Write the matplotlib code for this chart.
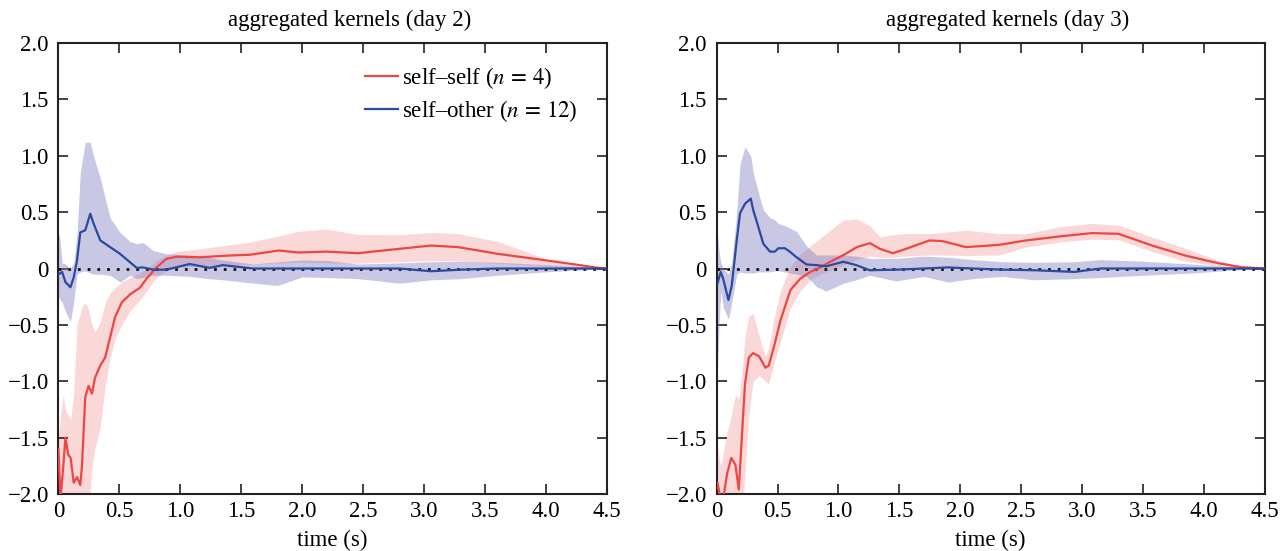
import numpy as np
import matplotlib
matplotlib.use("Agg")
import matplotlib.pyplot as plt
from matplotlib.ticker import FuncFormatter

plt.rcParams['font.family'] = ['Liberation Serif', 'DejaVu Serif']
plt.rcParams['mathtext.fontset'] = 'stix'

# ---- day 2, self-self ----
x2_ss = [0, 0.016, 0.04, 0.057, 0.08, 0.1, 0.125, 0.152, 0.179, 0.193, 0.22, 0.247,
         0.275, 0.30, 0.343, 0.383, 0.424, 0.465, 0.52, 0.587, 0.669, 0.723, 0.805,
         0.886, 0.968, 1.16, 1.4, 1.57, 1.81, 1.97, 2.2, 2.46, 2.8, 3.06, 3.28, 3.61,
         4.02, 4.25, 4.42, 4.5]
m2_ss = [-1.6, -2.05, -1.75, -1.5, -1.65, -1.68, -1.9, -1.85, -1.92, -1.75, -1.14, -1.04,
         -1.11, -0.97, -0.86, -0.79, -0.61, -0.43, -0.30, -0.23, -0.17, -0.09, 0.01,
         0.085, 0.105, 0.1, 0.115, 0.122, 0.16, 0.142, 0.15, 0.136, 0.175, 0.204, 0.19, 0.13,
         0.07, 0.035, 0.008, 0]
hi2_ss = [-1.5, -1.3, -1.12, -1.25, -1.3, -1.35, -1.1, -0.5, -0.4, -0.34, -0.3, -0.36,
          -0.5, -0.56, -0.48, -0.3, -0.22, -0.17, -0.12, -0.08, -0.04, 0.0, 0.07,
          0.12, 0.15, 0.175, 0.21, 0.234, 0.29, 0.33, 0.35, 0.302, 0.30, 0.32, 0.31, 0.24,
          0.08, 0.035, 0.01, 0]
lo2_ss = [-2.2, -2.2, -2.2, -2.2, -2.2, -2.2, -2.2, -2.2, -2.2, -2.2, -2.2, -2.2,
          -1.75, -1.6, -1.4, -1.05, -0.8, -0.62, -0.5, -0.38, -0.28, -0.2, -0.08,
          -0.02, 0.01, 0.02, 0.03, 0.035, 0.05, 0.055, 0.05, 0.047, 0.06, 0.07, 0.07, 0.045,
          0.02, 0.01, 0.003, 0]

# ---- day 2, self-other ----
x2_so = [0, 0.008, 0.03, 0.057, 0.098, 0.125, 0.152, 0.179, 0.22, 0.261, 0.288, 0.343,
         0.424, 0.506, 0.587, 0.642, 0.696, 0.777, 0.886, 1.077, 1.24, 1.35, 1.6, 1.8,
         2.0, 2.2, 2.46, 2.8, 3.06, 3.3, 3.6, 4.0, 4.4, 4.5]
m2_so = [-0.05, -0.047, -0.03, -0.12, -0.166, -0.08, 0.07, 0.32, 0.34, 0.486, 0.40, 0.25,
         0.19, 0.13, 0.056, 0.006, 0.01, -0.01, -0.01, 0.04, 0.006, 0.03, 0.0, 0.0,
         0.0, 0.0, 0.0, 0.0, -0.024, -0.01, 0.0, 0.0, 0.0, 0]
hi2_so = [0.30, 0.30, 0.05, 0.04, 0.0, 0.05, 0.3, 0.85, 1.12, 1.12, 1.0, 0.8,
          0.45, 0.32, 0.24, 0.22, 0.23, 0.16, 0.13, 0.12, 0.1, 0.075, 0.04, 0.06,
          0.075, 0.072, 0.04, 0.05, 0.06, 0.065, 0.055, 0.035, 0.01, 0]
lo2_so = [-0.25, -0.27, -0.3, -0.38, -0.47, -0.3, -0.05, -0.03, -0.02, -0.04, -0.05, -0.05,
          -0.06, -0.12, -0.06, -0.09, -0.08, -0.06, -0.06, -0.07, -0.09, -0.1, -0.13, -0.15,
          -0.075, -0.08, -0.09, -0.13, -0.1, -0.09, -0.06, -0.03, -0.005, 0]

# ---- day 3, self-self ----
x3_ss = [0, 0.007, 0.034, 0.06, 0.086, 0.12, 0.154, 0.182, 0.21, 0.233, 0.264, 0.30,
         0.35, 0.40, 0.428, 0.469, 0.524, 0.606, 0.687, 0.769, 0.851, 0.933, 1.042,
         1.151, 1.26, 1.34, 1.447, 1.556, 1.747, 1.856, 2.047, 2.32, 2.54, 2.81, 3.08,
         3.30, 3.575, 3.848, 4.12, 4.31, 4.5]
m3_ss = [-1.95, -1.9, -2.05, -2.0, -1.82, -1.68, -1.74, -1.96, -1.44, -1.02, -0.79, -0.75,
         -0.78, -0.88, -0.86, -0.7, -0.46, -0.19, -0.09, -0.03, 0.01, 0.06, 0.12,
         0.19, 0.225, 0.175, 0.136, 0.175, 0.249, 0.243, 0.19, 0.21, 0.249, 0.284, 0.314,
         0.308, 0.204, 0.115, 0.047, 0.012, 0]
hi3_ss = [-1.62, -1.6, -1.75, -1.6, -1.45, -1.3, -1.12, -1.15, -0.9, -0.6, -0.42, -0.4,
          -0.6, -0.78, -0.7, -0.45, -0.2, 0.02, 0.13, 0.2, 0.27, 0.34, 0.43,
          0.44, 0.38, 0.28, 0.3, 0.31, 0.31, 0.32, 0.34, 0.31, 0.31, 0.37, 0.40,
          0.385, 0.28, 0.18, 0.07, 0.02, 0]
lo3_ss = [-2.2, -2.2, -2.2, -2.2, -2.2, -2.2, -2.2, -2.2, -2.2, -1.8, -1.3, -1.0,
          -0.95, -1.0, -1.02, -0.85, -0.65, -0.35, -0.2, -0.1, -0.05, -0.02, 0.03,
          0.08, 0.11, 0.1, 0.1, 0.11, 0.12, 0.12, 0.115, 0.12, 0.19, 0.234, 0.26,
          0.255, 0.15, 0.065, 0.02, 0.005, 0]

# ---- day 3, self-other ----
x3_so = [0, 0.007, 0.02, 0.034, 0.056, 0.097, 0.124, 0.165, 0.192, 0.233, 0.28, 0.30,
         0.342, 0.383, 0.438, 0.479, 0.506, 0.56, 0.60, 0.656, 0.738, 0.82, 0.9, 1.04,
         1.147, 1.256, 1.474, 1.7, 1.9, 2.1, 2.35, 2.6, 2.94, 3.15, 3.5, 3.9, 4.3, 4.5]
m3_so = [-0.13, -0.135, -0.08, -0.03, -0.1, -0.28, -0.15, 0.25, 0.49, 0.575, 0.62, 0.52,
         0.37, 0.22, 0.15, 0.15, 0.18, 0.18, 0.15, 0.1, 0.036, 0.03, 0.02, 0.06,
         0.03, -0.015, -0.01, 0.0, 0.01, 0.0, -0.01, -0.015, -0.03, 0.0, 0.0, 0.0, 0.0, 0]
hi3_so = [0.34, 0.3, 0.15, 0.05, 0.0, -0.05, 0.05, 0.5, 0.93, 1.08, 1.0, 0.85,
          0.68, 0.52, 0.45, 0.43, 0.4, 0.38, 0.36, 0.33, 0.2, 0.12, 0.12, 0.12,
          0.11, 0.09, 0.09, 0.11, 0.1, 0.08, 0.06, 0.055, 0.06, 0.08, 0.065, 0.04, 0.01, 0]
lo3_so = [-1.05, -0.9, -0.5, -0.2, -0.35, -0.45, -0.3, -0.05, -0.03, -0.04, -0.04, -0.04,
          -0.03, -0.03, -0.03, -0.02, -0.02, -0.03, -0.04, -0.05, -0.07, -0.16, -0.2, -0.13,
          -0.1, -0.06, -0.11, -0.07, -0.12, -0.09, -0.07, -0.1, -0.09, -0.08, -0.06, -0.04, -0.01, 0]

titles = ["aggregated kernels (day 2)", "aggregated kernels (day 3)"]
labels = [r"self–self ($n\,=\,4$)", r"self–other ($n\,=\,12$)"]
xticks = [0, 0.5, 1.0, 1.5, 2.0, 2.5, 3.0, 3.5, 4.0, 4.5]
yticks = [-2.0, -1.5, -1.0, -0.5, 0, 0.5, 1.0, 1.5, 2.0]

red = '#ee4545'
blue = '#2b4a9c'

def fmt(v, pos):
    if abs(v) < 1e-9:
        return "0"
    return ("%.1f" % v).replace("-", "\u2212")

fig = plt.figure(figsize=(12.88, 5.51), dpi=100)
ax1 = fig.add_axes([0.0454, 0.1034, 0.4255, 0.8185])
ax2 = fig.add_axes([0.5564, 0.1034, 0.4255, 0.8185])

panels = [
    (ax1, x2_ss, m2_ss, lo2_ss, hi2_ss, x2_so, m2_so, lo2_so, hi2_so),
    (ax2, x3_ss, m3_ss, lo3_ss, hi3_ss, x3_so, m3_so, lo3_so, hi3_so),
]

for i, (ax, xs, ms, ls, hs, xo, mo, lo, ho) in enumerate(panels):
    ax.fill_between(xs, ls, hs, color='#f08080', alpha=0.3, lw=0, zorder=1)
    ax.fill_between(xo, lo, ho, color='#7777c0', alpha=0.4, lw=0, zorder=2)
    ax.plot([0, 4.5], [0, 0], color='#111111', ls=(0, (1, 2.5)), lw=2, zorder=3)
    ax.plot(xs, ms, color=red, lw=1.6, zorder=4, label=labels[0])
    ax.plot(xo, mo, color=blue, lw=1.6, zorder=5, label=labels[1])

    ax.set_xlim(0, 4.5)
    ax.set_ylim(-2.0, 2.0)
    ax.set_xticks(xticks)
    ax.set_yticks(yticks)
    ax.xaxis.set_major_formatter(FuncFormatter(fmt))
    ax.yaxis.set_major_formatter(FuncFormatter(fmt))
    ax.tick_params(direction='in', length=7, width=1.2, top=True, right=True,
                   labelsize=16.5, color='#222222')
    ax.tick_params(axis='y', pad=7)
    ax.tick_params(axis='x', pad=5)
    for s in ax.spines.values():
        s.set_linewidth(1.5)
        s.set_color('#222222')
    ax.set_title(titles[i], fontsize=16.5, pad=12, x=0.531)
    ax.set_xlabel("time (s)", fontsize=16.5, labelpad=6)

ax1.legend(loc='upper right', bbox_to_anchor=(0.985, 0.997), frameon=False,
           fontsize=16.5, handlelength=1.4, handletextpad=0.2, labelspacing=0.3)

fig.savefig("out.png", dpi=100)
